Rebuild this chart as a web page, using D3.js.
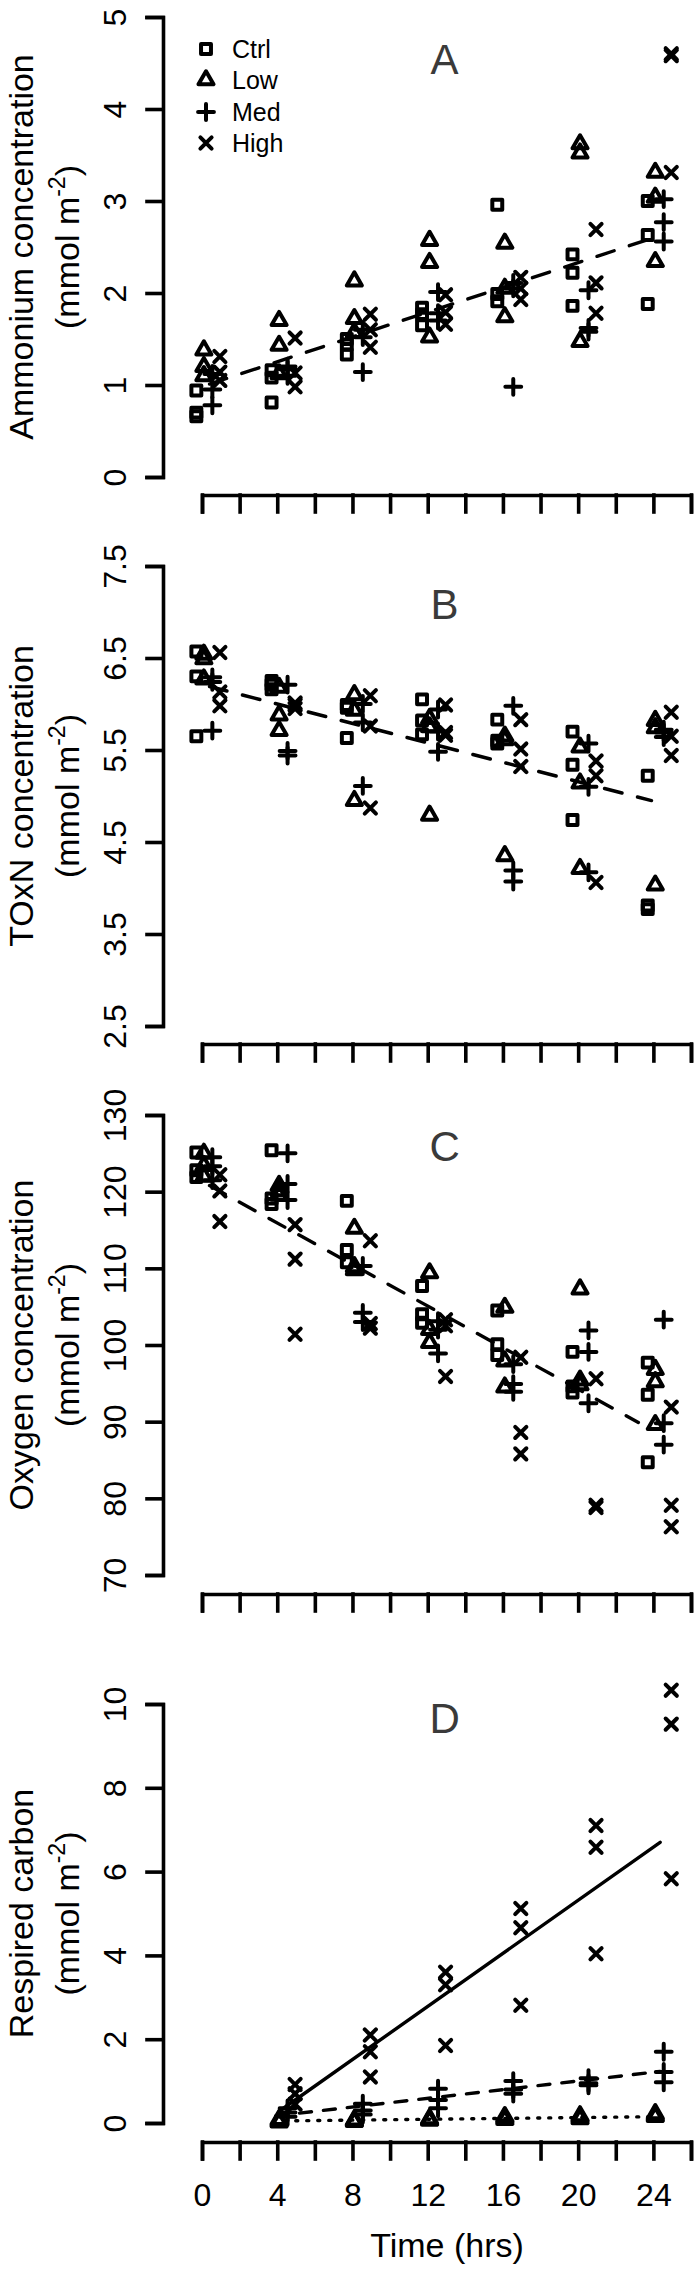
<!DOCTYPE html>
<html><head><meta charset="utf-8">
<script src="https://cdn.jsdelivr.net/npm/d3@7"></script>
<style>
body{margin:0;background:#fff}
svg{display:block}
text{font-family:"Liberation Sans",Arial,Helvetica,sans-serif}
</style>
</head><body>
<svg id="chart" width="700" height="2272"></svg>
<script>
// ---------------- DATA ----------------
const treatments = ["Ctrl", "Low", "Med", "High"];
const timesABC = [0, 4, 8, 12, 16, 20, 24];
const timesD = [4, 8, 12, 16, 20, 24];
// horizontal dodge (hours) used to separate treatments at each sampling time
const dodgeHrs = [-0.3, 0.1, 0.55, 0.95];

const xTicks = [0, 2, 4, 6, 8, 10, 12, 14, 16, 18, 20, 22, 24, 26];
const xTickLabels = [0, 4, 8, 12, 16, 20, 24];

// Panel A: ammonium (mmol m-2), 3 replicates per time
const nh4Ctrl = [[0.66,0.70,0.94],[0.81,1.08,1.16],[1.50,1.33,1.44],[1.84,1.77,1.65],[2.96,1.99,1.91],[2.42,2.22,1.86],[3.00,2.63,1.88]];
const nh4Low  = [[1.38,1.20,1.10],[1.70,1.43,1.12],[2.13,1.72,1.57],[2.57,2.33,1.52],[2.54,2.05,1.74],[3.62,3.52,1.47],[3.31,3.04,2.34]];
const nh4Med  = [[0.78,0.95,1.12],[1.17,1.20,1.10],[1.14,1.60,1.52],[2.01,1.78,1.70],[0.98,2.11,2.05],[2.03,1.62,1.58],[2.77,2.56,3.02]];
const nh4High = [[1.31,1.14,1.05],[1.51,0.98,1.13],[1.77,1.60,1.41],[1.98,1.79,1.66],[2.17,1.93,2.05],[2.69,2.11,1.78],[4.60,4.58,3.31]];
const yTicksA = [0, 1, 2, 3, 4, 5];
const fitA_t = [0.4, 24.0], fitA_v = [1.01, 2.60];

// Panel B: TOxN (mmol m-2)
const toxCtrl = [[6.57,6.30,5.65],[6.25,6.16,6.21],[5.96,5.99,5.63],[6.05,5.82,5.67],[5.83,5.60,5.57],[5.70,5.34,4.74],[5.22,3.81,3.77]];
const toxLow  = [[6.54,6.49,6.27],[5.88,5.71,6.18],[6.10,5.93,4.95],[5.84,5.75,4.79],[5.65,5.61,4.35],[5.53,5.14,4.21],[5.82,5.74,4.03]];
const toxMed  = [[6.29,6.24,5.71],[6.21,5.49,5.44],[6.00,5.80,5.11],[5.94,5.70,5.48],[5.98,4.19,4.07],[5.57,5.10,4.17],[5.72,5.64,5.69]];
const toxHigh = [[6.56,6.13,5.98],[5.99,5.95,6.01],[6.09,5.76,4.87],[5.99,5.69,5.66],[5.83,5.51,5.32],[5.38,5.22,4.06],[5.91,5.65,5.44]];
const yTicksB = [2.5, 3.5, 4.5, 5.5, 6.5, 7.5];
const fitB_t = [0.4, 23.9], fitB_v = [6.19, 4.95];

// Panel C: oxygen (mmol m-2)
const oxyCtrl = [[125.1,122.8,121.9],[125.4,119.1,118.4],[118.8,112.4,110.8],[107.7,104.0,102.9],[104.5,100.1,98.7],[99.1,94.6,93.8],[97.7,93.5,84.7]];
const oxyLow  = [[125.0,123.4,122.0],[120.8,120.1,119.5],[115.2,110.2,109.8],[109.4,102.0,100.3],[104.9,97.9,94.5],[107.3,95.4,94.8],[96.8,95.2,89.6]];
const oxyMed  = [[124.5,123.3,121.5],[125.0,121.0,118.9],[110.3,104.2,103.0],[103.1,102.0,98.9],[97.5,94.9,93.9],[101.9,99.1,92.4],[103.3,89.8,87.0]];
const oxyHigh = [[122.2,120.1,116.1],[115.7,111.2,101.4],[113.6,102.8,102.2],[103.3,102.5,95.9],[98.4,88.6,85.8],[95.6,79.1,78.8],[91.9,79.1,76.3]];
const yTicksC = [70, 80, 90, 100, 110, 120, 130];
const fitC_t = [0.4, 23.2], fitC_v = [120.8, 89.9];

// Panel D: respired carbon (mmol m-2), no control series
const rcLow  = [[0.02,0.05,0.08],[0.03,0.05,0.07],[0.06,0.08,0.10],[0.08,0.12,0.15],[0.10,0.14,0.17],[0.15,0.18,0.22]];
const rcMed  = [[0.35,0.25,0.15],[0.46,0.30,0.20],[0.82,0.55,0.35],[1.00,0.80,0.70],[1.07,0.95,0.90],[1.70,1.22,0.97]];
const rcHigh = [[0.92,0.70,0.45],[2.10,1.70,1.10],[3.60,3.30,1.85],[5.12,4.66,2.81],[7.10,6.58,4.04],[10.33,9.52,5.83]];
const yTicksD = [0, 2, 4, 6, 8, 10];
const fitDHigh_t = [4.2, 24.36], fitDHigh_v = [0.31, 6.70];
const fitDMed_t  = [3.92, 24.36], fitDMed_v  = [0.17, 1.23];
const fitDLow_t  = [4.4, 24.1],  fitDLow_v  = [0.05, 0.15];

// ---------------- DRAWING ----------------
const svg = d3.select("#chart");
const LW = 3.6;          // axis line width
const R = 5.6;           // symbol radius
const SW = 4;            // symbol stroke
const x = d3.scaleLinear().domain([0, 26]).range([202, 691]);

function symbolPath(k) {
  if (k === 0) { const h = 0.886 * R; return `M${-h},${-h}H${h}V${h}H${-h}Z`; }
  if (k === 1) { const t = 1.555 * R, w = 1.347 * R, b = 0.778 * R; return `M0,${-t}L${w},${b}L${-w},${b}Z`; }
  if (k === 2) { const a = 1.414 * R; return `M${-a},0H${a}M0,${-a}V${a}`; }
  return `M${-R},${-R}L${R},${R}M${-R},${R}L${R},${-R}`;
}

const panels = [
  { series: [nh4Ctrl, nh4Low, nh4Med, nh4High], idx: [0,1,2,3], times: timesABC, ticks: yTicksA, domain: [0, 5], range: [477, 17], xAxisY: 495,
    title: "Ammonium concentration", letter: "A", letterPos: [12.9, 4.54],
    fits: [{t: fitA_t, v: fitA_v, dash: "18,16"}], fmt: d3.format("d") },
  { series: [toxCtrl, toxLow, toxMed, toxHigh], idx: [0,1,2,3], times: timesABC, ticks: yTicksB, domain: [2.5, 7.5], range: [1026, 566], xAxisY: 1044,
    title: "TOxN concentration", letter: "B", letterPos: [12.9, 7.09],
    fits: [{t: fitB_t, v: fitB_v, dash: "18,16"}], fmt: d3.format(".1f") },
  { series: [oxyCtrl, oxyLow, oxyMed, oxyHigh], idx: [0,1,2,3], times: timesABC, ticks: yTicksC, domain: [70, 130], range: [1575, 1115], xAxisY: 1594,
    title: "Oxygen concentration", letter: "C", letterPos: [12.9, 126.0],
    fits: [{t: fitC_t, v: fitC_v, dash: "18,16"}], fmt: d3.format("d") },
  { series: [rcLow, rcMed, rcHigh], idx: [1,2,3], times: timesD, ticks: yTicksD, domain: [0, 10], range: [2123, 1704], xAxisY: 2142,
    title: "Respired carbon", letter: "D", letterPos: [12.9, 9.67],
    fits: [{t: fitDHigh_t, v: fitDHigh_v, dash: null}, {t: fitDMed_t, v: fitDMed_v, dash: "12,12"}, {t: fitDLow_t, v: fitDLow_v, dash: "2,9"}],
    fmt: d3.format("d"), xLabels: true }
];

panels.forEach(p => {
  const y = d3.scaleLinear().domain(p.domain).range(p.range);
  const g = svg.append("g");

  // y axis
  const ya = g.append("g").attr("transform", "translate(163,0)")
    .call(d3.axisLeft(y).tickValues(p.ticks).tickFormat(p.fmt).tickSize(16).tickSizeOuter(16).tickPadding(0));
  ya.selectAll("path,line").attr("stroke", "#000").attr("stroke-width", LW).attr("stroke-linecap", "square");
  ya.selectAll("text").attr("x", null).attr("dy", null)
    .attr("transform", "translate(-49,0) rotate(-90)")
    .attr("text-anchor", "middle").attr("dy", "0.36em")
    .attr("font-size", 32).attr("fill", "#000")
    .style("font-family", '"Liberation Sans",Arial,sans-serif');

  // x axis (separated below the plot)
  const xa = g.append("g").attr("transform", `translate(0,${p.xAxisY})`)
    .call(d3.axisBottom(x).tickValues(xTicks).tickSize(17).tickSizeOuter(17).tickPadding(24)
      .tickFormat(d => (p.xLabels && xTickLabels.includes(d)) ? String(d) : ""));
  xa.selectAll("path,line").attr("stroke", "#000").attr("stroke-width", LW).attr("stroke-linecap", "square");
  xa.selectAll("text").attr("font-size", 32).attr("fill", "#000")
    .style("font-family", '"Liberation Sans",Arial,sans-serif');

  // y title, two lines, rotated
  const cy = (p.range[0] + p.range[1]) / 2;
  g.append("text").attr("transform", `translate(21,${cy}) rotate(-90)`)
    .attr("text-anchor", "middle").attr("dy", "0.36em").attr("font-size", 34).text(p.title);
  const t2 = g.append("text").attr("transform", `translate(67,${cy}) rotate(-90)`)
    .attr("text-anchor", "middle").attr("dy", "0.36em").attr("font-size", 34);
  t2.append("tspan").text("(mmol m");
  t2.append("tspan").attr("font-size", 23).attr("dy", -14).text("-2");
  t2.append("tspan").attr("dy", 14).text(")");

  // panel letter
  g.append("text").attr("x", x(p.letterPos[0])).attr("y", y(p.letterPos[1]))
    .attr("text-anchor", "middle").attr("dy", "0.36em").attr("font-size", 42).attr("fill", "#3a3a3a").text(p.letter);

  // fitted lines
  p.fits.forEach(f => {
    g.append("path")
      .attr("d", d3.line().x(d => x(d[0])).y(d => y(d[1]))(f.t.map((t, i) => [t, f.v[i]])))
      .attr("fill", "none").attr("stroke", "#000").attr("stroke-width", 3.4)
      .attr("stroke-linecap", "round")
      .attr("stroke-dasharray", f.dash);
  });

  // points
  p.series.forEach((s, si) => {
    const k = p.idx[si];
    const pts = [];
    s.forEach((reps, ti) => reps.forEach(v => pts.push([p.times[ti] + dodgeHrs[k], v])));
    g.append("g").selectAll("path").data(pts).join("path")
      .attr("transform", d => `translate(${x(d[0])},${y(d[1])})`)
      .attr("d", symbolPath(k))
      .attr("fill", "none").attr("stroke", "#000").attr("stroke-width", SW)
      .attr("stroke-linecap", "round").attr("stroke-linejoin", "round");
  });
});

// legend (panel A)
const leg = svg.append("g");
const legY = [49, 80, 112, 143];
treatments.forEach((name, i) => {
  leg.append("path").attr("transform", `translate(206,${legY[i]})`).attr("d", symbolPath(i))
    .attr("fill", "none").attr("stroke", "#000").attr("stroke-width", SW)
    .attr("stroke-linecap", "round").attr("stroke-linejoin", "round");
  leg.append("text").attr("x", 232).attr("y", legY[i]).attr("dy", "0.36em").attr("font-size", 25).text(name);
});

// x title
svg.append("text").attr("x", 447).attr("y", 2245).attr("text-anchor", "middle").attr("dy", "0.36em")
  .attr("font-size", 34).text("Time (hrs)");
</script>
</body></html>
